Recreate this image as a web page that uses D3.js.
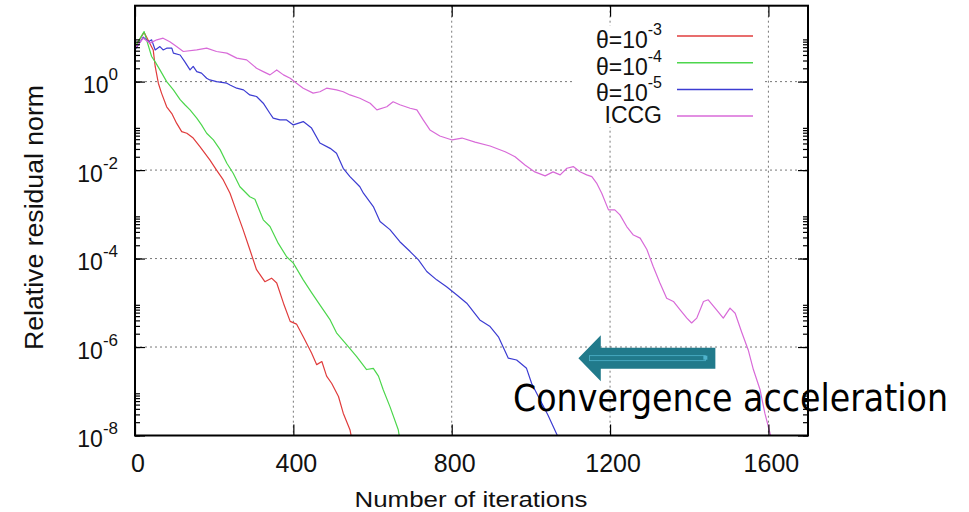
<!DOCTYPE html>
<html>
<head>
<meta charset="utf-8">
<script src="https://cdn.jsdelivr.net/npm/d3@7"></script>
<style>
  body { margin: 0; background: #fff; }
  svg text { font-family: "Liberation Sans", Arial, sans-serif; fill: #111; }
</style>
</head>
<body>
<div class="svg-container"></div>
<script>
// residual history: [iteration, relative residual norm]
var theta3 = [[0,6.1],[23,13],[46,5.2],[51,2.2],[59,0.92],[67,0.55],[80,0.27],[93,0.19],[105,0.115],
  [118,0.074],[131,0.068],[147,0.053],[164,0.034],[189,0.017],[206,0.010],[223,0.006],[240,0.003],
  [255,1.26e-3],[273,4.5e-4],[290,1.6e-4],[307,5.6e-5],[328,3.0e-5],[345,3.6e-5],[358,2.8e-5],
  [375,9.8e-6],[392,3.8e-6],[408,3.3e-6],[425,1.7e-6],[446,7.3e-7],[459,4.0e-7],[472,4.7e-7],
  [484,2.2e-7],[497,1.5e-7],[514,7.6e-8],[526,3.2e-8],[543,1.35e-8],[548,8e-9]];

var theta4 = [[0,6.1],[23,13.5],[42,3.7],[51,2.8],[63,1.84],[80,1.0],[97,0.65],[114,0.39],[126,0.30],
  [139,0.23],[156,0.149],[168,0.105],[181,0.068],[198,0.048],[215,0.029],[232,0.0143],[248,0.0085],
  [265,0.0042],[290,0.0025],[303,0.0022],[324,7.5e-4],[341,5.3e-4],[362,2.2e-4],[383,1.1e-4],
  [400,7.9e-5],[425,3.3e-5],[446,1.7e-5],[467,9.0e-6],[493,4.1e-6],[509,2.1e-6],[535,1.12e-6],
  [560,6.1e-7],[585,3.1e-7],[602,3.3e-7],[615,2.2e-7],[627,1.08e-7],[644,4.5e-8],[665,1.35e-8],[669,8e-9]];

var theta5 = [[0,5.2],[21,10.1],[34,8.0],[42,8.8],[51,5.2],[63,6.2],[71,5.2],[80,5.7],[93,5.7],[97,4.4],
  [114,4.0],[126,2.8],[139,1.84],[147,2.2],[156,1.68],[168,1.55],[181,1.19],[189,1.09],[206,1.0],
  [232,0.92],[240,0.84],[257,0.71],[274,0.65],[290,0.50],[307,0.46],[324,0.325],[341,0.19],[349,0.149],
  [366,0.136],[383,0.136],[400,0.105],[425,0.125],[446,0.089],[467,0.041],[493,0.031],[509,0.024],
  [526,0.011],[543,0.0071],[568,0.0042],[577,0.003],[602,0.0015],[619,6.9e-4],[644,4.5e-4],[669,2.4e-4],
  [695,1.44e-4],[716,9.3e-5],[737,5.1e-5],[762,3.3e-5],[787,2.3e-5],[813,1.5e-5],[838,9.8e-6],
  [871,4.1e-6],[897,2.9e-6],[918,1.7e-6],[943,5.6e-7],[964,5.1e-7],[989,3.3e-7],[1002,1.5e-7],
  [1023,6.4e-8],[1043,2.9e-8],[1066,1.04e-8],[1071,8e-9]];

var iccg = [[0,6.7],[4,6.2],[21,9.6],[38,7.4],[55,8.8],[71,9.6],[88,8.0],[105,6.2],[122,4.8],[156,5.2],
  [181,5.7],[206,4.8],[232,4.4],[257,3.4],[282,3.1],[307,2.0],[324,1.68],[341,1.42],[358,1.84],[375,1.42],
  [392,1.19],[408,0.92],[425,0.71],[450,0.55],[467,0.59],[484,0.71],[509,0.65],[526,0.59],[543,0.50],
  [568,0.42],[594,0.325],[611,0.23],[636,0.27],[652,0.35],[669,0.30],[695,0.25],[712,0.23],[728,0.136],
  [745,0.081],[770,0.059],[801,0.048],[826,0.053],[859,0.043],[897,0.035],[935,0.026],[960,0.020],
  [985,0.013],[1010,0.0091],[1036,0.0074],[1056,0.0091],[1074,0.0078],[1091,0.011],[1107,0.012],
  [1124,0.0092],[1141,0.0078],[1154,0.0071],[1166,0.0051],[1179,0.003],[1196,1.26e-3],[1212,1.26e-3],
  [1225,9.7e-4],[1242,5.3e-4],[1259,3.4e-4],[1276,2.9e-4],[1293,1.6e-4],[1309,6.6e-5],[1326,2.8e-5],
  [1343,1.27e-5],[1360,1.07e-5],[1377,6.9e-6],[1394,4.5e-6],[1406,3.5e-6],[1419,4.5e-6],[1436,1.07e-5],
  [1448,1.17e-5],[1469,6.9e-6],[1486,4.5e-6],[1503,7.6e-6],[1516,5.8e-6],[1533,2.1e-6],[1549,8.6e-7],
  [1562,3.1e-7],[1579,1.08e-7],[1591,3.2e-8],[1604,1.13e-8],[1609,8e-9]];

var seriesData = [theta3, theta4, theta5, iccg];
var legendBase = ["\u03b8=10", "\u03b8=10", "\u03b8=10", "ICCG"];
var legendSup = ["-3", "-4", "-5", ""];
var seriesColors = ["#e03c3c", "#4cd64c", "#3c3cd2", "#d86ad8"];

var xTicks = [0, 400, 800, 1200, 1600];
var yExponents = [0, -2, -4, -6, -8];

var W = 969, H = 512;
var plot = { left: 135, right: 808, top: 5.7, bottom: 435.5 };

var svg = d3.select(".svg-container").append("svg")
  .attr("width", W).attr("height", H);

var x = d3.scaleLinear().domain([0, 1700]).range([plot.left, plot.right]);
var y = d3.scaleLog().domain([1e-8, 52]).range([plot.bottom, plot.top]);

var majorY = yExponents.concat([2]).map(function(e) { return Math.pow(10, e); });
var minorY = [];
majorY.forEach(function(m) {
  for (var k = 1; k <= 9; k++) {
    var v = k * m / 100;
    if (v >= 1e-8 && v <= 52 && v < m) minorY.push(v);
  }
});
var majorYIn = majorY.filter(function(v) { return v <= 52; });

// grid
var grid = svg.append("g").attr("class", "grid")
  .attr("stroke", "#555").attr("stroke-width", 0.8).attr("stroke-dasharray", "2,3");
grid.selectAll("line.gx").data(xTicks.slice(1)).enter().append("line")
  .attr("x1", function(d) { return x(d); }).attr("x2", function(d) { return x(d); })
  .attr("y1", plot.top).attr("y2", plot.bottom);
grid.selectAll("line.gy").data(yExponents.slice(0, -1)).enter().append("line")
  .attr("x1", plot.left).attr("x2", plot.right)
  .attr("y1", function(d) { return y(Math.pow(10, d)); })
  .attr("y2", function(d) { return y(Math.pow(10, d)); });

// curves
svg.append("clipPath").attr("id", "clip").append("rect")
  .attr("x", plot.left).attr("y", plot.top)
  .attr("width", plot.right - plot.left).attr("height", plot.bottom - plot.top);

var lineFunction = d3.line()
  .x(function(d) { return x(d[0]); })
  .y(function(d) { return y(d[1]); });

svg.append("g").attr("clip-path", "url(#clip)")
  .selectAll("path").data(seriesData).enter().append("path")
  .attr("d", lineFunction)
  .attr("fill", "none")
  .attr("stroke", function(d, i) { return seriesColors[i]; })
  .attr("stroke-width", 1.2)
  .attr("stroke-linejoin", "round");

// axes: ticks pointing inward
function strip(g) { g.select(".domain").remove(); g.selectAll("text").remove(); }
svg.append("g").attr("transform", "translate(0," + plot.bottom + ")")
  .call(d3.axisBottom(x).tickValues(xTicks).tickSize(-11)).call(strip);
svg.append("g").attr("transform", "translate(0," + plot.top + ")")
  .call(d3.axisTop(x).tickValues(xTicks).tickSize(-11)).call(strip);
svg.append("g").attr("transform", "translate(" + plot.left + ",0)")
  .call(d3.axisLeft(y).tickValues(majorYIn).tickSize(-10)).call(strip);
svg.append("g").attr("transform", "translate(" + plot.left + ",0)")
  .call(d3.axisLeft(y).tickValues(minorY).tickSize(-5)).call(strip);
svg.append("g").attr("transform", "translate(" + plot.right + ",0)")
  .call(d3.axisRight(y).tickValues(majorYIn).tickSize(-10)).call(strip);
svg.append("g").attr("transform", "translate(" + plot.right + ",0)")
  .call(d3.axisRight(y).tickValues(minorY).tickSize(-5)).call(strip);
svg.selectAll(".tick line").attr("stroke", "#000").attr("stroke-width", 1.2);

svg.append("rect")
  .attr("x", plot.left).attr("y", plot.top)
  .attr("width", plot.right - plot.left).attr("height", plot.bottom - plot.top)
  .attr("fill", "none").attr("stroke", "#000").attr("stroke-width", 2);

// tick labels
svg.selectAll("text.xt").data(xTicks).enter().append("text")
  .attr("x", function(d) { return x(d) + 3; })
  .attr("y", 472)
  .attr("text-anchor", "middle")
  .style("font-size", "25px")
  .text(function(d) { return d; });

yExponents.forEach(function(e) {
  var t = svg.append("text")
    .attr("x", 118).attr("y", y(Math.pow(10, e)) + 11.6)
    .attr("text-anchor", "end").style("font-size", "23px");
  t.append("tspan").text("10");
  t.append("tspan").attr("dy", -13).style("font-size", "17px").text(String(e));
});

// axis titles
svg.append("text")
  .attr("x", 471).attr("y", 507).attr("text-anchor", "middle")
  .attr("textLength", 233).attr("lengthAdjust", "spacingAndGlyphs")
  .style("font-size", "22px")
  .text("Number of iterations");

svg.append("text")
  .attr("transform", "translate(43,217.5) rotate(-90)")
  .attr("text-anchor", "middle")
  .attr("textLength", 265).attr("lengthAdjust", "spacingAndGlyphs")
  .style("font-size", "26px")
  .text("Relative residual norm");

// legend
svg.append("rect").attr("x", 572).attr("y", 26).attr("width", 193).attr("height", 101).attr("fill", "#fff");
var legend = svg.append("g");
seriesData.forEach(function(d, i) {
  var ly = 36 + i * 26.7;
  legend.append("line")
    .attr("x1", 677).attr("x2", 753).attr("y1", ly).attr("y2", ly)
    .attr("stroke", seriesColors[i]).attr("stroke-width", 1.5);
  var t = legend.append("text")
    .attr("x", 662).attr("y", ly + (legendSup[i] ? 12 : 7))
    .attr("text-anchor", "end").style("font-size", "23px");
  t.append("tspan").text(legendBase[i]);
  if (legendSup[i]) t.append("tspan").attr("dy", -13).style("font-size", "16px").text(legendSup[i]);
});

// annotation arrow
var tipX = x(1120), tailX = x(1466), ay = y(5.6e-7);
var arrow = d3.path();
arrow.moveTo(tipX, ay);
arrow.lineTo(tipX + 22.4, ay - 23);
arrow.lineTo(tipX + 22.4, ay - 10.5);
arrow.lineTo(tailX, ay - 10.5);
arrow.lineTo(tailX, ay + 10.5);
arrow.lineTo(tipX + 22.4, ay + 10.5);
arrow.lineTo(tipX + 22.4, ay + 23);
arrow.closePath();
svg.append("path").attr("d", arrow.toString()).attr("fill", "#217a8b");
svg.append("rect")
  .attr("x", tipX + 11).attr("y", ay - 2.5).attr("width", tailX - tipX - 21).attr("height", 5)
  .attr("fill", "none").attr("stroke", "#4fb3cc").attr("stroke-width", 0.8);
svg.append("rect").attr("x", tailX - 12).attr("y", ay - 2.5).attr("width", 4).attr("height", 4)
  .attr("fill", "#4fb3cc");

svg.append("text")
  .attr("x", 513).attr("y", 410.7)
  .attr("textLength", 435).attr("lengthAdjust", "spacingAndGlyphs")
  .style("font-family", "'DejaVu Sans', Verdana, sans-serif")
  .style("font-size", "37px").style("fill", "#000")
  .text("Convergence acceleration");
</script>
</body>
</html>
